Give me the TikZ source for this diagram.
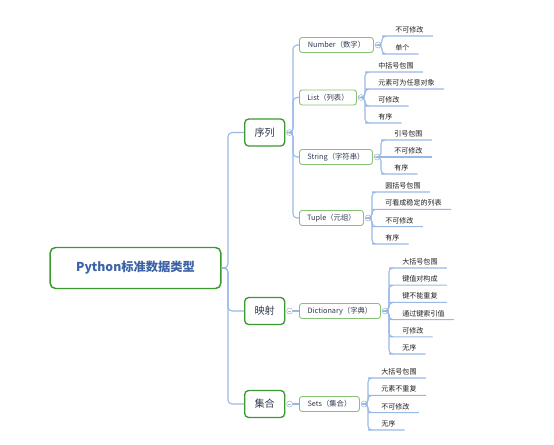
\documentclass[tikz,border=0pt]{standalone}
\usepackage{fontspec}
\setmainfont{Noto Sans CJK SC}
\usetikzlibrary{positioning}
\definecolor{boxgreen}{HTML}{3A9A30}
\definecolor{subgreen}{HTML}{86C276}
\definecolor{linkblue}{HTML}{98B8E6}
\definecolor{dotgray}{HTML}{A8B4CA}
\definecolor{roottext}{HTML}{3B62A6}
\definecolor{typetext}{HTML}{2F3A50}
\definecolor{leaftext}{HTML}{1E1E1E}

\begin{document}
\begin{tikzpicture}[x=0.75pt, y=-0.75pt,
	rootbox/.style={draw=boxgreen, line width=1.1pt, rounded corners=4pt, fill=white,
		minimum width=128pt, minimum height=30.75pt, text=roottext,
		font=\fontsize{9.2}{10}\selectfont\bfseries},
	kind/.style={draw=boxgreen, line width=1pt, rounded corners=3pt, fill=white, anchor=west,
		minimum width=30pt, minimum height=20.25pt, inner sep=1pt, text=typetext,
		font=\fontsize{7.6}{8}\selectfont},
	type/.style={draw=subgreen, line width=0.65pt, rounded corners=2pt, fill=white, anchor=west,
		minimum height=11.25pt, inner sep=1pt, text=typetext,
		font=\fontsize{5.5}{6}\selectfont},
	leaf/.style={anchor=south west, inner xsep=6.75pt, inner ysep=2pt, text=leaftext,
		font=\fontsize{5.3}{6}\selectfont},
	fold/.style={draw=dotgray, line width=0.4pt, circle, fill=white, minimum size=4.5pt, inner sep=0pt,
		path picture={\draw[dotgray, line width=0.4pt] ([xshift=-1.2pt]path picture bounding box.center)
			-- ([xshift=1.2pt]path picture bounding box.center);}},
	link/.style={draw=linkblue, line width=0.8pt, rounded corners=3pt}]
\useasboundingbox (0,0) rectangle (554,444);

% root and first level
\node[rootbox] (root) at (135.5, 268) {Python标准数据类型};
\node[kind] (seq) at (244, 132.5) {序列};
\node[kind] (map) at (244, 311) {映射};
\node[kind] (set) at (244, 404) {集合};
\node[fold, right=0.75pt of seq] (seqc) {};
\node[fold, right=0.75pt of map] (mapc) {};
\node[fold, right=0.75pt of set] (setc) {};
\coordinate (rootj) at (228, 268);
\coordinate (seqj) at (293, 132.5);

% second level
\node[type, minimum width=55.5pt] (num) at (299, 45) {Number（数字）};
\node[type, minimum width=42.75pt] (lst) at (299, 97.5) {List（列表）};
\node[type, minimum width=54.75pt] (str) at (299, 157) {String（字符串）};
\node[type, minimum width=48pt] (tup) at (299, 218) {Tuple（元组）};
\node[type, minimum width=60.75pt] (dic) at (299, 311) {Dictionary（字典）};
\node[type, minimum width=45pt] (sets) at (299, 404) {Sets（集合）};
\foreach \t in {num, lst, str, tup, dic, sets}
	\node[fold, right=0.75pt of \t] (\t c) {};
\coordinate (numj) at (382, 45);
\coordinate (lstj) at (365, 97.5);
\coordinate (strj) at (381, 157);
\coordinate (tupj) at (372, 218);
\coordinate (dicj) at (389, 311);
\coordinate (setsj) at (368, 404);

% leaves
\node[leaf] (n1) at (386, 36) {不可修改};
\node[leaf] (n2) at (386, 54) {单个};
\node[leaf] (l1) at (369, 72) {中括号包围};
\node[leaf] (l2) at (369, 89) {元素可为任意对象};
\node[leaf] (l3) at (369, 106) {可修改};
\node[leaf] (l4) at (369, 123) {有序};
\node[leaf] (s1) at (385, 140) {引号包围};
\node[leaf] (s2) at (385, 157) {不可修改};
\node[leaf] (s3) at (385, 174) {有序};
\node[leaf] (t1) at (376, 192) {圆括号包围};
\node[leaf] (t2) at (376, 209.3) {可看成稳定的列表};
\node[leaf] (t3) at (376, 226.7) {不可修改};
\node[leaf] (t4) at (376, 244) {有序};
\node[leaf] (d1) at (393, 268) {大括号包围};
\node[leaf] (d2) at (393, 285.2) {键值对构成};
\node[leaf] (d3) at (393, 302.4) {键不能重复};
\node[leaf] (d4) at (393, 319.6) {通过键索引值};
\node[leaf] (d5) at (393, 336.8) {可修改};
\node[leaf] (d6) at (393, 354) {无序};
\node[leaf] (e1) at (372, 378) {大括号包围};
\node[leaf] (e2) at (372, 395.3) {元素不重复};
\node[leaf] (e3) at (372, 412.7) {不可修改};
\node[leaf] (e4) at (372, 430) {无序};

% connectors
\foreach \k in {seq, map, set}
	\draw[link] (root.east) -- (rootj) |- (\k.west);
\foreach \t in {num, lst, str, tup}
	\draw[link] (seqc.east) -- (seqj) |- (\t.west);
\draw[link] (mapc.east) -- (dic.west);
\draw[link] (setc.east) -- (sets.west);
\foreach \l in {n1, n2}
	\draw[link] (numc.east) -- (numj) |- (\l.south west) -- (\l.south east);
\foreach \l in {l1, l2, l3, l4}
	\draw[link] (lstc.east) -- (lstj) |- (\l.south west) -- (\l.south east);
\foreach \l in {s1, s3}
	\draw[link] (strc.east) -- (strj) |- (\l.south west) -- (\l.south east);
\draw[link] (strc.east) -- (s2.south east);
\foreach \l in {t1, t2, t3, t4}
	\draw[link] (tupc.east) -- (tupj) |- (\l.south west) -- (\l.south east);
\foreach \l in {d1, d2, d3, d4, d5, d6}
	\draw[link] (dicc.east) -- (dicj) |- (\l.south west) -- (\l.south east);
\foreach \l in {e1, e2, e3, e4}
	\draw[link] (setsc.east) -- (setsj) |- (\l.south west) -- (\l.south east);
\end{tikzpicture}
\end{document}
